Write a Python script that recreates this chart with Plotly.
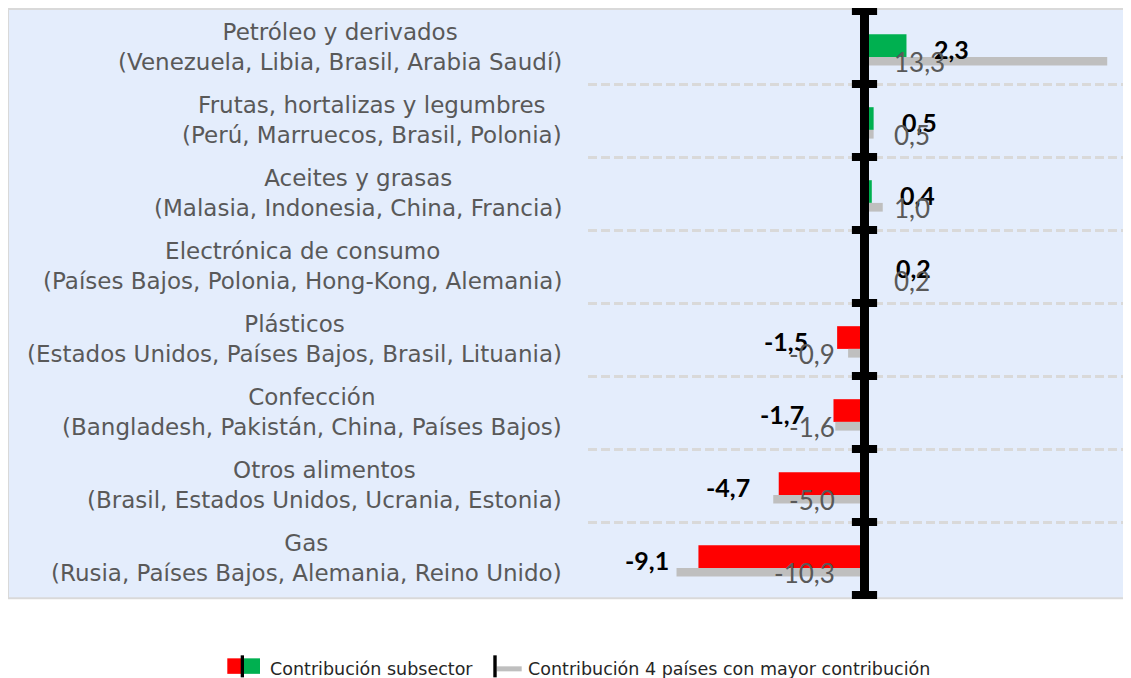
import plotly.graph_objects as go

# ---- data ----
cat_titles = ["Petróleo y derivados", "Frutas, hortalizas y legumbres", "Aceites y grasas",
              "Electrónica de consumo", "Plásticos", "Confección", "Otros alimentos", "Gas"]
cat_countries = ["(Venezuela, Libia, Brasil, Arabia Saudí)", "(Perú, Marruecos, Brasil, Polonia)",
                 "(Malasia, Indonesia, China, Francia)", "(Países Bajos, Polonia, Hong-Kong, Alemania)",
                 "(Estados Unidos, Países Bajos, Brasil, Lituania)", "(Bangladesh, Pakistán, China, Países Bajos)",
                 "(Brasil, Estados Unidos, Ucrania, Estonia)", "(Rusia, Países Bajos, Alemania, Reino Unido)"]
subsector = [2.3, 0.5, 0.4, 0.2, -1.5, -1.7, -4.7, -9.1]
paises = [13.3, 0.5, 1.0, 0.2, -0.9, -1.6, -5.0, -10.3]
legend_names = ["Contribución subsector", "Contribución 4 países con mayor contribución"]

def fmt(v):
    return f"{v:.1f}".replace(".", ",")

OFF = 8                      # page body margin
W, H = 1131 - OFF, 678 - OFF
ML, MR, MT, MB = 588 - OFF, 0, 11 - OFF, 678 - 594.7
PW, PH = W - ML - MR, H - MT - MB
n = len(subsector)
pitch = PH / n

def px2x(px):               # page px -> paper x
    return (px - OFF - ML) / PW

def px2y(py):               # page px -> paper y
    return (H - MB - (py - OFF)) / PH

FONT = "Lato"
LABFONT = "DejaVu Sans"
GREEN, RED, GRAY = "#00B050", "#FF0000", "#BFBFBF"
ypos = list(range(n))

fig = go.Figure()
fig.add_trace(go.Bar(
    x=subsector, y=ypos, orientation="h",
    marker=dict(color=[GREEN if v >= 0 else RED for v in subsector], line=dict(width=0)),
    offset=-13.3 / pitch, width=22.7 / pitch, showlegend=False, hoverinfo="x"))
fig.add_trace(go.Bar(
    x=paises, y=ypos, orientation="h",
    marker=dict(color=GRAY, line=dict(width=0)),
    offset=9.4 / pitch, width=8.7 / pitch, showlegend=False, hoverinfo="x"))

# vertical axis line at zero with cross tick marks at category boundaries
bounds = [i - 0.5 for i in range(n + 1)]
fig.add_trace(go.Scatter(
    x=[0] * len(bounds), y=bounds, mode="lines+markers",
    line=dict(color="black", width=9),
    marker=dict(symbol="line-ew", size=18, line=dict(color="black", width=8)),
    cliponaxis=False, showlegend=False, hoverinfo="skip"))

ann = []
for i in range(n):
    ann.append(dict(x=px2x(564), xref="paper", y=i - 1 / pitch, yref="y", xanchor="right", yanchor="middle",
                    align="center", showarrow=False,
                    text=cat_titles[i] + "<br>" + cat_countries[i],
                    font=dict(family=LABFONT, size=23, color="#595959")))
    v = subsector[i]
    ann.append(dict(x=v, y=i + 1 / pitch, xref="x", yref="y", showarrow=False,
                    xanchor="left" if v >= 0 else "right", yanchor="middle",
                    xshift=26 if v >= 0 else -27, text="<b>" + fmt(v) + "</b>",
                    font=dict(family=FONT, size=25, color="black")))
    p = paises[i]
    ann.append(dict(x=0, y=i + 14.5 / pitch, xref="x", yref="y", showarrow=False,
                    xanchor="left" if p >= 0 else "right", yanchor="middle",
                    xshift=27 if p >= 0 else -28, text=fmt(p),
                    font=dict(family=FONT, size=26, color="#595959")))

# legend (manual)
ly = 668.5
ann.append(dict(x=px2x(268), y=px2y(ly), xref="paper", yref="paper", xanchor="left", yanchor="middle",
                showarrow=False, text=legend_names[0], font=dict(family=LABFONT, size=17.5, color="#262626")))
ann.append(dict(x=px2x(526), y=px2y(ly), xref="paper", yref="paper", xanchor="left", yanchor="middle",
                showarrow=False, text=legend_names[1], font=dict(family=LABFONT, size=17.5, color="#262626")))

shapes = [
    dict(type="rect", xref="paper", yref="paper", x0=px2x(8), x1=px2x(1145), y0=px2y(598), y1=px2y(9),
         fillcolor="#E4EDFC", line=dict(color="#D9D9D9", width=2), layer="below"),
    dict(type="rect", xref="paper", yref="paper", x0=px2x(227.3), x1=px2x(241), y0=px2y(673.5), y1=px2y(658),
         fillcolor=RED, line=dict(width=0)),
    dict(type="rect", xref="paper", yref="paper", x0=px2x(244), x1=px2x(260), y0=px2y(673.5), y1=px2y(658),
         fillcolor=GREEN, line=dict(width=0)),
    dict(type="rect", xref="paper", yref="paper", x0=px2x(240.7), x1=px2x(244), y0=px2y(677), y1=px2y(655),
         fillcolor="black", line=dict(width=0)),
    dict(type="rect", xref="paper", yref="paper", x0=px2x(496.7), x1=px2x(521.7), y0=px2y(671), y1=px2y(666),
         fillcolor=GRAY, line=dict(width=0)),
    dict(type="rect", xref="paper", yref="paper", x0=px2x(493.3), x1=px2x(496.7), y0=px2y(677), y1=px2y(655),
         fillcolor="black", line=dict(width=0)),
]

zero_px = 864.5 - OFF
scale = 18.25
fig.update_layout(
    width=W, height=H, margin=dict(l=ML, r=MR, t=MT, b=MB, pad=0),
    paper_bgcolor="white", plot_bgcolor="rgba(0,0,0,0)",
    barmode="overlay", showlegend=False,
    xaxis=dict(range=[-(zero_px - ML) / scale, (ML + PW - zero_px) / scale], showgrid=False,
               zeroline=False, showticklabels=False, ticks="", showline=False, fixedrange=True),
    yaxis=dict(range=[n - 0.5, -0.5], tickvals=[i + 0.5 for i in range(n - 1)], showticklabels=False,
               ticks="", showgrid=True, gridcolor="#D9D9D9", gridwidth=2.5, griddash="9px,4px",
               zeroline=False, showline=False, fixedrange=True),
    annotations=ann, shapes=shapes,
)

fig.write_html("out.html")
